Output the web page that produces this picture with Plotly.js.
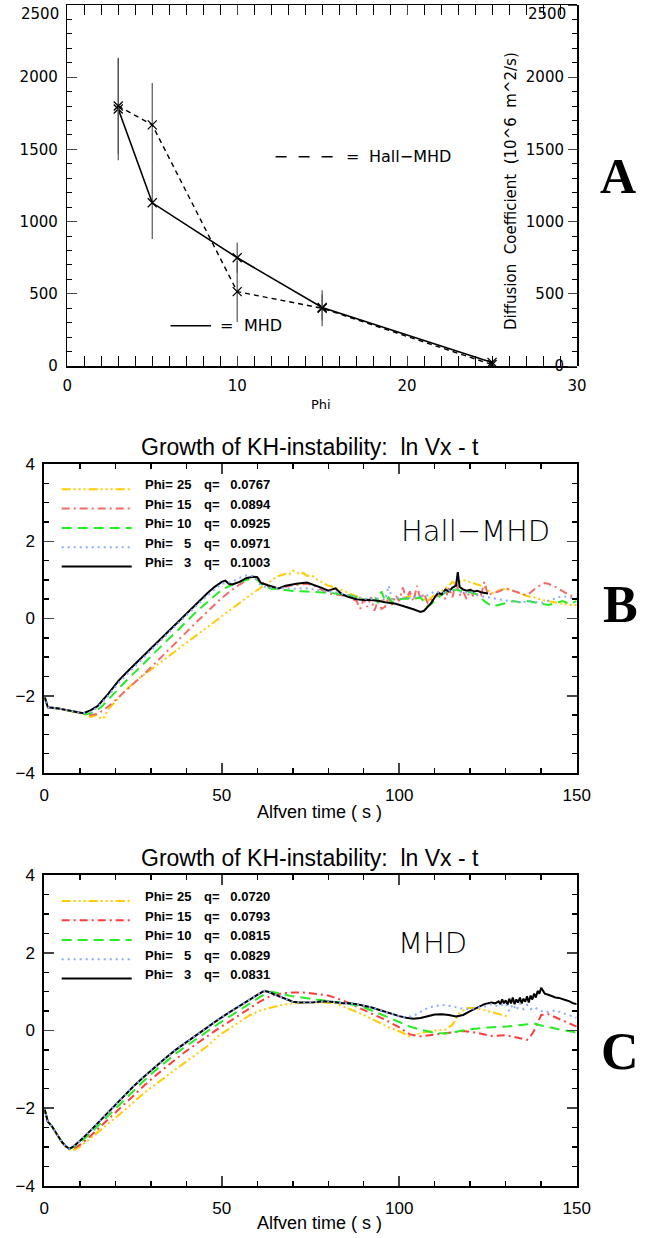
<!DOCTYPE html>
<html><head><meta charset="utf-8">
<script src="https://cdn.plot.ly/plotly-3.0.1.min.js"></script>
<style>html,body{margin:0;padding:0;background:#fff;} #chart{width:645px;height:1238px;}</style>
</head><body><div id="chart"></div>
<script>
// ---------- Panel A: diffusion coefficient vs Phi ----------
const phiVals  = [3, 5, 10, 15, 25];
const mhdDiff  = [1780, 1130, 750, 405, 25];
const mhdErr   = [355, 250, 105, 90, 12];
const hallDiff = [1800, 1670, 515, 400, 10];
const hallErr  = [330, 290, 210, 125, 12];
const diffTicks = [0, 500, 1000, 1500, 2000, 2500];

// ---------- Panel B: Hall-MHD growth ----------
const bLabelsPhi = ['25', '15', '10', '5', '3'];
const bLabelsQ   = ['0.0767', '0.0894', '0.0925', '0.0971', '0.1003'];

const bT25 = [0,1,4,8,11,13,15,16,17,18,20,23,26,29,32,35,38,41,44,47,50,53,56,59,61,62,63,64,65,66,67,68,69,70,71,72,73,74,75,76,77,78,80,82,84,86,88,90,92,94,96,98,100,102,104,106,108,110,112,114,115,116,118,120,122,124,126,128,130,132,134,136,138,140,142,144,146,148,150];
const bV25 = [-2.0,-2.3,-2.33,-2.4,-2.47,-2.55,-2.5,-2.6,-2.55,-2.35,-2.15,-1.85,-1.6,-1.4,-1.18,-0.98,-0.77,-0.56,-0.35,-0.15,0.05,0.26,0.47,0.67,0.8,0.85,0.92,1.0,1.05,1.1,1.13,1.16,1.14,1.24,1.2,1.15,1.18,1.1,1.12,1.08,1.0,0.95,0.85,0.8,0.72,0.65,0.58,0.5,0.48,0.45,0.48,0.5,0.52,0.55,0.6,0.55,0.45,0.62,0.72,0.85,0.95,0.9,1.0,0.95,0.88,0.82,0.65,0.72,0.78,0.72,0.65,0.58,0.55,0.48,0.45,0.42,0.38,0.35,0.35];

const bT15 = [0,1,4,8,11,13,15,17,19,22,25,28,31,34,37,40,43,46,49,52,55,57,58,59,60,61,62,64,66,68,70,72,74,76,78,80,82,84,86,88,89,90,91,92,93,94,95,96,97,98,99,100,101,102,103,104,105,106,107,108,110,112,113,114,115,116,117,118,119,120,121,122,123,124,125,126,128,130,132,134,136,138,140,141,142,144,146,148,150];
const bV15 = [-2.0,-2.3,-2.33,-2.4,-2.45,-2.5,-2.47,-2.35,-2.2,-1.95,-1.72,-1.45,-1.18,-0.9,-0.62,-0.35,-0.08,0.18,0.45,0.68,0.88,0.98,1.05,1.08,1.05,1.0,0.88,0.8,0.78,0.82,0.86,0.88,0.9,0.85,0.75,0.65,0.62,0.6,0.55,0.45,0.25,0.5,0.3,0.55,0.2,0.45,0.25,0.3,0.55,0.35,0.6,0.45,0.8,0.5,0.7,0.45,0.85,0.5,0.65,0.4,0.55,0.65,0.5,0.8,0.55,0.95,0.6,0.7,0.5,0.75,0.55,0.65,0.6,0.95,0.6,0.65,0.7,0.78,0.72,0.65,0.6,0.75,0.88,0.92,0.9,0.82,0.7,0.6,0.55];

const bT10 = [0,1,4,8,11,12,14,16,18,20,23,26,30,34,38,42,46,50,53,55,57,59,60,62,64,66,68,70,74,78,82,86,90,92,93,94,95,96,97,98,100,102,104,106,108,110,112,114,116,118,120,122,124,126,128,130,132,134,136,138,140,142,144,146,148,150];
const bV10 = [-2.0,-2.3,-2.33,-2.4,-2.45,-2.48,-2.42,-2.3,-2.1,-1.9,-1.62,-1.35,-0.98,-0.62,-0.27,0.1,0.43,0.74,0.88,0.95,1.0,1.05,1.0,0.82,0.77,0.76,0.74,0.71,0.7,0.68,0.65,0.6,0.5,0.48,0.6,0.4,0.7,0.45,0.55,0.42,0.5,0.52,0.5,0.55,0.3,0.45,0.62,0.72,0.75,0.7,0.68,0.62,0.45,0.32,0.35,0.4,0.45,0.42,0.45,0.42,0.38,0.35,0.4,0.45,0.38,0.45];

const bT5 = [0,1,4,8,11,13,15,18,21,24,27,30,33,36,40,43,46,50,53,55,57,59,61,63,66,70,74,78,82,85,88,91,94,96,97,98,100,102,104,106,108,110,112,114,116,118,120,122,125,128,131,134,137,140,143,146,148,150];
const bV5 = [-2.0,-2.3,-2.33,-2.4,-2.45,-2.42,-2.3,-2.0,-1.66,-1.38,-1.1,-0.82,-0.55,-0.28,0.08,0.35,0.6,0.9,0.95,1.05,1.12,1.1,0.85,0.8,0.78,0.77,0.78,0.72,0.68,0.62,0.55,0.5,0.52,0.48,0.85,0.5,0.55,0.52,0.55,0.58,0.6,0.7,0.65,0.72,0.75,0.65,0.7,0.6,0.55,0.5,0.45,0.42,0.45,0.4,0.48,0.58,0.55,0.5];

const bT3 = [0,1,4,8,11,13,15,18,21,24,27,30,33,36,40,43,46,48,50,51,52,53,55,57,59,60,61,63,65,66,68,71,74,76,78,80,81,82,83,84,86,88,90,92,94,96,99,102,104,106,107,108,109,110,111,112,113,114,115,116,116.5,117,118,119,120,121,122,123,124,125];
const bV3 = [-2.0,-2.3,-2.33,-2.4,-2.45,-2.38,-2.27,-1.95,-1.6,-1.32,-1.05,-0.78,-0.5,-0.24,0.12,0.4,0.66,0.82,0.95,0.98,0.9,0.88,0.95,1.05,1.08,1.07,0.92,0.86,0.8,0.78,0.85,0.9,0.93,0.87,0.8,0.72,0.75,0.78,0.7,0.62,0.55,0.5,0.48,0.48,0.46,0.42,0.38,0.3,0.24,0.17,0.2,0.3,0.4,0.55,0.67,0.62,0.75,0.7,0.8,0.85,1.2,0.82,0.75,0.72,0.74,0.7,0.72,0.68,0.66,0.65];

// ---------- Panel C: MHD growth ----------
const cLabelsPhi = ['25', '15', '10', '5', '3'];
const cLabelsQ   = ['0.0720', '0.0793', '0.0815', '0.0829', '0.0831'];

const cT25 = [0,1,2,3,4,5,6,7,7.5,8,10,13,16,19,22,25,28,31,34,37,40,43,46,49,52,55,58,61,64,67,70,73,76,79,82,85,88,91,94,97,100,103,105,107,110,113,115,117,119,121,123,125,127,129,131];
const cV25 = [-2.0,-2.35,-2.45,-2.6,-2.75,-2.9,-3.0,-3.08,-3.1,-3.1,-3.0,-2.78,-2.56,-2.33,-2.1,-1.86,-1.62,-1.41,-1.2,-1.0,-0.8,-0.6,-0.4,-0.14,0.04,0.22,0.4,0.52,0.6,0.66,0.7,0.72,0.72,0.72,0.7,0.6,0.48,0.36,0.22,0.08,-0.02,-0.15,-0.1,-0.05,0.0,0.02,0.15,0.45,0.58,0.58,0.55,0.5,0.45,0.4,0.35];

const cT15 = [0,1,2,3,4,5,6,7,8,10,13,16,19,22,25,28,31,34,37,40,43,46,49,52,55,58,61,64,67,70,73,76,80,84,88,92,96,100,103,106,110,114,118,122,126,130,133,136,137,138,139,140,142,145,148,150];
const cV15 = [-2.0,-2.35,-2.45,-2.6,-2.75,-2.88,-2.98,-3.05,-3.05,-2.95,-2.72,-2.46,-2.2,-1.93,-1.68,-1.43,-1.19,-0.96,-0.74,-0.53,-0.33,-0.14,0.05,0.22,0.4,0.6,0.76,0.9,0.96,0.98,0.98,0.95,0.9,0.78,0.62,0.45,0.28,0.08,-0.1,-0.15,-0.1,-0.06,-0.01,-0.06,-0.14,-0.12,-0.18,-0.24,-0.15,0.0,0.2,0.4,0.42,0.3,0.18,0.1];

const cT10 = [0,1,2,3,4,5,6,7,8,10,13,16,19,22,25,28,31,34,37,40,43,46,49,52,55,58,61,63,64,66,70,75,80,85,90,95,100,103,106,110,113,116,120,125,130,135,138,140,143,146,150];
const cV10 = [-2.0,-2.35,-2.45,-2.6,-2.75,-2.88,-2.98,-3.05,-3.02,-2.9,-2.65,-2.38,-2.1,-1.82,-1.55,-1.3,-1.05,-0.82,-0.6,-0.4,-0.2,-0.02,0.17,0.35,0.52,0.7,0.88,0.98,1.0,0.96,0.88,0.82,0.76,0.7,0.6,0.42,0.22,0.1,0.02,-0.06,-0.08,-0.03,0.03,0.08,0.1,0.15,0.18,0.13,0.06,0.01,-0.05];

const cT5 = [0,1,2,3,4,5,6,7,8,10,13,16,19,22,25,28,31,34,37,40,43,46,49,52,55,58,60,61,62,63,64,66,68,70,72,74,76,78,80,82,84,86,88,90,92,94,96,98,100,102,104,106,108,110,112,114,116,118,120,122,124,126,128,130,131,132,133,134,135,136,137,138,139,140,142,144,146,148,150];
const cV5 = [-2.0,-2.35,-2.45,-2.6,-2.75,-2.88,-2.98,-3.05,-3.0,-2.85,-2.58,-2.3,-2.0,-1.72,-1.45,-1.2,-0.95,-0.72,-0.5,-0.3,-0.1,0.1,0.28,0.46,0.62,0.8,0.92,0.98,1.02,1.0,0.96,0.88,0.8,0.74,0.72,0.72,0.73,0.75,0.75,0.73,0.7,0.7,0.68,0.64,0.6,0.54,0.48,0.42,0.37,0.34,0.38,0.48,0.58,0.63,0.66,0.64,0.6,0.56,0.55,0.58,0.62,0.68,0.62,0.7,0.5,0.68,0.52,0.7,0.55,0.66,0.55,0.6,0.55,0.5,0.48,0.52,0.45,0.38,0.33];

const cT3 = [0,1,2,3,4,5,6,7,8,10,13,16,19,22,25,28,31,34,37,40,43,46,49,52,55,58,60,61,62,63,64,66,68,70,72,74,76,78,80,82,84,86,88,90,92,94,96,98,100,102,104,106,108,110,112,114,116,118,120,122,124,126,127,128,128.5,129,129.5,130,130.5,131,131.5,132,132.5,133,133.5,134,134.5,135,135.5,136,136.5,137,137.5,138,138.5,139,139.5,140,141,142,143,144,145,146,147,148,149,150];
const cV3 = [-2.0,-2.35,-2.45,-2.6,-2.75,-2.88,-2.98,-3.05,-3.0,-2.85,-2.58,-2.3,-2.0,-1.72,-1.45,-1.2,-0.95,-0.72,-0.5,-0.3,-0.1,0.1,0.28,0.46,0.62,0.8,0.92,0.98,1.02,1.0,0.96,0.88,0.8,0.74,0.72,0.72,0.73,0.75,0.75,0.73,0.7,0.7,0.68,0.64,0.6,0.54,0.48,0.42,0.37,0.33,0.3,0.32,0.36,0.41,0.42,0.4,0.36,0.4,0.5,0.6,0.68,0.72,0.7,0.75,0.68,0.8,0.7,0.78,0.66,0.82,0.7,0.85,0.68,0.8,0.72,0.85,0.7,0.82,0.74,0.88,0.72,0.9,0.8,0.95,0.85,1.02,0.95,1.1,0.95,0.92,0.88,0.85,0.84,0.8,0.78,0.75,0.7,0.68,0.66,0.65];

const growthTicksX = [0, 50, 100, 150];
const growthTicksY = [-4, -2, 0, 2, 4];

// ---------- styling ----------
const W = 645, H = 1238;
const PX = x => x / W, PY = y => 1 - y / H;
const SANS = 'Liberation Sans, Arial, sans-serif';
const HERSH = 'DejaVu Sans, sans-serif';
const SERIF = 'Liberation Serif, Times New Roman, serif';

const seriesStyle = [
  {color: '#ffcc00', dash: '9px,3px,2px,3px,2px,3px,2px,3px'},   // Phi 25
  {color: '#f26b6b', dash: '8px,4px,2px,4px'},                   // Phi 15
  {color: '#22ee22', dash: '10px,6px'},                          // Phi 10
  {color: '#8aaaff', dash: '2px,4px'},                           // Phi 5
  {color: '#000000', dash: 'solid'}                              // Phi 3
];
const seriesStyleC = seriesStyle.map((s, i) => i === 1 ? {color: '#ff3b3b', dash: s.dash} : s);

const bT = [bT25, bT15, bT10, bT5, bT3], bV = [bV25, bV15, bV10, bV5, bV3];
const cT = [cT25, cT15, cT10, cT5, cT3], cV = [cV25, cV15, cV10, cV5, cV3];
const drawOrder = [0, 1, 2, 4, 3];

const traces = [];
// Panel A
traces.push({
  x: phiVals, y: mhdDiff, xaxis: 'x', yaxis: 'y', mode: 'lines+markers', name: 'MHD', showlegend: false,
  line: {color: '#000', width: 1.6},
  marker: {symbol: 'x-thin-open', size: 9, color: '#000', line: {color: '#000', width: 1.3}},
  error_y: {type: 'data', array: mhdErr, visible: true, color: '#555', thickness: 1.2, width: 0}
});
traces.push({
  x: phiVals, y: hallDiff, xaxis: 'x', yaxis: 'y', mode: 'lines+markers', name: 'Hall-MHD', showlegend: false,
  line: {color: '#000', width: 1.4, dash: '5px,4px'},
  marker: {symbol: 'x-thin-open', size: 9, color: '#000', line: {color: '#000', width: 1.3}},
  error_y: {type: 'data', array: hallErr, visible: true, color: '#555', thickness: 1.2, width: 0}
});
// invisible trace so the right-hand diffusion axis is drawn
traces.push({x: [phiVals[0]], y: [mhdDiff[0]], xaxis: 'x', yaxis: 'y4', mode: 'markers', marker: {opacity: 0}, showlegend: false, hoverinfo: 'skip'});

drawOrder.forEach(i => {
  traces.push({x: bT[i], y: bV[i], xaxis: 'x2', yaxis: 'y2', mode: 'lines', showlegend: false,
    name: 'Phi=' + bLabelsPhi[i], line: {color: seriesStyle[i].color, width: 2, dash: seriesStyle[i].dash}});
});
drawOrder.forEach(i => {
  traces.push({x: cT[i], y: cV[i], xaxis: 'x3', yaxis: 'y3', mode: 'lines', showlegend: false,
    name: 'Phi=' + cLabelsPhi[i], line: {color: seriesStyleC[i].color, width: 2, dash: seriesStyleC[i].dash}});
});

// the topmost diffusion label sits just under the frame (as in the original), so it is written separately
const diffTickText = diffTicks.map(v => v === diffTicks[diffTicks.length - 1] ? '' : String(v));

const gx = {domain: [PX(44.3), PX(576.7)], range: [0, 150], tickvals: growthTicksX, ticks: 'inside', ticklen: 10, tickwidth: 1.5,
  showline: true, linewidth: 2, linecolor: '#000', mirror: 'allticks', showgrid: false, zeroline: false,
  minor: {dtick: 10, ticks: 'inside', ticklen: 5, tickwidth: 1.5, tickcolor: '#000'},
  tickfont: {family: SANS, size: 17, color: '#000'}, ticklabelstandoff: 6, ticklabeloverflow: 'allow'};
const gy = {range: [-4, 4], tickvals: growthTicksY, ticks: 'inside', ticklen: 10, tickwidth: 1.5,
  showline: true, linewidth: 2, linecolor: '#000', mirror: 'allticks', showgrid: false, zeroline: false,
  minor: {dtick: 0.5, ticks: 'inside', ticklen: 5, tickwidth: 1.5, tickcolor: '#000'},
  tickfont: {family: SANS, size: 17, color: '#000'}, ticklabelstandoff: 4, ticklabeloverflow: 'allow'};

const layout = {
  width: W, height: H, margin: {l: 0, r: 0, t: 0, b: 0}, paper_bgcolor: '#fff', plot_bgcolor: '#fff',
  showlegend: false,
  xaxis: {domain: [PX(67.3), PX(577)], range: [0, 30], anchor: 'y', tickvals: [0, 10, 20, 30], ticks: 'inside', ticklen: 10,
    showline: true, linewidth: 1.5, linecolor: '#000', mirror: 'allticks', showgrid: false, zeroline: false,
    minor: {dtick: 1, ticks: 'inside', ticklen: 5, tickcolor: '#000'},
    tickfont: {family: HERSH, size: 15, color: '#000'}, ticklabelstandoff: 5, ticklabeloverflow: 'allow'},
  yaxis: {domain: [PY(366), PY(5)], range: [0, 2500], anchor: 'x', tickvals: diffTicks, ticktext: diffTickText, ticks: 'inside', ticklen: 10,
    showline: true, linewidth: 1.5, linecolor: '#000', mirror: false, showgrid: false, zeroline: false,
    minor: {dtick: 100, ticks: 'inside', ticklen: 5, tickcolor: '#000'},
    tickfont: {family: HERSH, size: 15, color: '#000'}, ticklabelstandoff: 5, ticklabeloverflow: 'allow'},
  yaxis4: {overlaying: 'y', side: 'left', anchor: 'free', position: PX(577), range: [0, 2500], tickvals: diffTicks, ticktext: diffTickText,
    ticks: 'outside', ticklen: 9, showline: true, linewidth: 1.5, linecolor: '#000', showgrid: false, zeroline: false,
    minor: {dtick: 100, ticks: 'outside', ticklen: 5, tickcolor: '#000'},
    tickfont: {family: HERSH, size: 15, color: '#000'}, ticklabelstandoff: 1, ticklabeloverflow: 'allow'},
  xaxis2: Object.assign({}, gx, {anchor: 'y2'}),
  yaxis2: Object.assign({}, gy, {domain: [PY(773), PY(464)], anchor: 'x2'}),
  xaxis3: Object.assign({}, gx, {anchor: 'y3'}),
  yaxis3: Object.assign({}, gy, {domain: [PY(1185.7), PY(875.3)], anchor: 'x3'}),
  annotations: [], shapes: []
};

const ann = (text, x, y, font, opts) => layout.annotations.push(Object.assign({
  text: text, x: PX(x), y: PY(y), xref: 'paper', yref: 'paper', showarrow: false,
  xanchor: 'center', yanchor: 'middle', font: font}, opts || {}));
const hline = (x0, x1, y, color, width, dash) => layout.shapes.push({type: 'line', xref: 'paper', yref: 'paper',
  x0: PX(x0), x1: PX(x1), y0: PY(y), y1: PY(y), line: {color: color, width: width, dash: dash}});

// Panel A texts
const topDiff = String(diffTicks[diffTicks.length - 1]);
ann(topDiff, 61, 14, {family: HERSH, size: 15, color: '#000'}, {xanchor: 'right'});
ann(topDiff, 568, 14, {family: HERSH, size: 15, color: '#000'}, {xanchor: 'right'});
ann('Phi', 321, 404, {family: HERSH, size: 13, color: '#000'});
ann('Diffusion  Coefficient  (10^6  m^2/s)', 511, 191, {family: HERSH, size: 15, color: '#000'}, {textangle: -90});
hline(275.6, 333, 156.7, '#000', 1.4, '11px,12px');
ann('=', 352, 156.7, {family: HERSH, size: 16, color: '#000'});
ann('Hall\u2212MHD', 367, 156.7, {family: HERSH, size: 16, color: '#000'}, {xanchor: 'left'});
hline(170.5, 211, 325.8, '#000', 1.4, 'solid');
ann('=', 226, 325.8, {family: HERSH, size: 16, color: '#000'});
ann('MHD', 242, 325.8, {family: HERSH, size: 16, color: '#000'}, {xanchor: 'left'});
ann('<b>A</b>', 617.5, 176, {family: SERIF, size: 50, color: '#000'});

// Panel B texts
ann('Growth of KH-instability:  ln Vx - t', 310, 446.7, {family: SANS, size: 23, color: '#000'});
ann('Alfven time ( s )', 319.5, 811.7, {family: SANS, size: 18, color: '#000'});
ann('Hall\u2212MHD', 475, 531, {family: HERSH, size: 29, color: '#000', weight: 200});
ann('<b>B</b>', 620, 604, {family: SERIF, size: 52, color: '#000'});
const bRows = [485, 504.3, 523.7, 543, 562.3];
bRows.forEach((y, i) => {
  hline(61.7, 131.7, y + 4.3, seriesStyle[i].color, 2, seriesStyle[i].dash);
  ann('<b>Phi=</b>', 142.7, y, {family: SANS, size: 13, color: '#000'}, {xanchor: 'left'});
  ann('<b>' + bLabelsPhi[i] + '</b>', 193.3, y, {family: SANS, size: 13, color: '#000'}, {xanchor: 'right'});
  ann('<b>q=   ' + bLabelsQ[i] + '</b>', 202.3, y, {family: SANS, size: 13, color: '#000'}, {xanchor: 'left'});
});

// Panel C texts
ann('Growth of KH-instability:  ln Vx - t', 310, 858.3, {family: SANS, size: 23, color: '#000'});
ann('Alfven time ( s )', 319.5, 1223.3, {family: SANS, size: 18, color: '#000'});
ann('MHD', 433, 942.5, {family: HERSH, size: 29, color: '#000', weight: 200});
ann('<b>C</b>', 620, 1051, {family: SERIF, size: 52, color: '#000'});
const cRows = [896.7, 916, 935.7, 955, 974.3];
cRows.forEach((y, i) => {
  hline(61.7, 131.7, y + 4.3, seriesStyleC[i].color, 2, seriesStyleC[i].dash);
  ann('<b>Phi=</b>', 142.7, y, {family: SANS, size: 13, color: '#000'}, {xanchor: 'left'});
  ann('<b>' + cLabelsPhi[i] + '</b>', 193.3, y, {family: SANS, size: 13, color: '#000'}, {xanchor: 'right'});
  ann('<b>q=   ' + cLabelsQ[i] + '</b>', 202.3, y, {family: SANS, size: 13, color: '#000'}, {xanchor: 'left'});
});

Plotly.newPlot('chart', traces, layout, {displayModeBar: false, staticPlot: true});
</script></body></html>
